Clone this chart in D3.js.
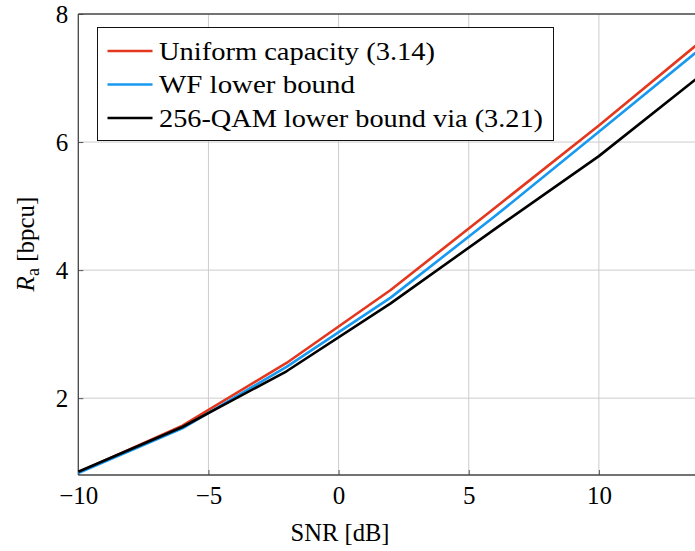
<!DOCTYPE html>
<html>
<head>
<meta charset="utf-8">
<script src="https://d3js.org/d3.v7.min.js"></script>
<style>
  body { margin: 0; background: #fff; }
</style>
</head>
<body>
<div id="chart"></div>
<script>
const snr = [-10, -6, -2, 2, 6, 10, 14]
const uniformCap = [0.84, 1.57, 2.55, 3.69, 4.97, 6.26, 7.60]
const wfLower = [0.83, 1.53, 2.49, 3.57, 4.84, 6.16, 7.49]
const qamLower = [0.85, 1.55, 2.42, 3.48, 4.64, 5.78, 7.07]
const seriesNames = ["Uniform capacity (3.14)", "WF lower bound", "256-QAM lower bound via (3.21)"]
const seriesColors = ["#e3371e", "#1799f0", "#000000"]
const xTicks = [-10, -5, 0, 5, 10]
const yTicks = [2, 4, 6, 8]

const width = 695
const height = 551
const margin = { top: 14, left: 78.3, right: -8, bottom: 76 }
const face = "'Liberation Serif'"
// legend text widths, so the serif runs as wide as the TeX face
const legendWidths = [276, 196, 384]

const svg = d3.select("#chart").append("svg")
    .attr("width", width)
    .attr("height", height)

const xScale = d3.scaleLinear()
    .domain([-10, 14])
    .range([margin.left, width - margin.right])

const yScale = d3.scaleLinear()
    .domain([0.8, 8])
    .range([height - margin.bottom, margin.top])

// grid
svg.append("g").selectAll("line")
    .data(xTicks.slice(1))
    .enter().append("line")
    .attr("x1", d => xScale(d)).attr("x2", d => xScale(d))
    .attr("y1", yScale(0.8)).attr("y2", yScale(8))
    .attr("stroke", "#cccccc").attr("stroke-width", 1)

svg.append("g").selectAll("line")
    .data(yTicks.slice(0, -1))
    .enter().append("line")
    .attr("y1", d => yScale(d)).attr("y2", d => yScale(d))
    .attr("x1", xScale(-10)).attr("x2", xScale(14))
    .attr("stroke", "#cccccc").attr("stroke-width", 1)

// axes with inward ticks
const xAxis = svg.append("g")
    .attr("transform", "translate(0," + yScale(0.8) + ")")
    .call(d3.axisBottom(xScale).tickValues(xTicks).tickSize(-5).tickPadding(11)
        .tickFormat(d => d < 0 ? "\u2212" + Math.abs(d) : d))
xAxis.attr("font-family", null).attr("font-size", null)
xAxis.select(".domain").remove()
xAxis.selectAll(".tick line").attr("stroke", "#555")
xAxis.selectAll("text")
    .style("font-family", face).attr("font-size", 25)

const yAxis = svg.append("g")
    .attr("transform", "translate(" + xScale(-10) + ",0)")
    .call(d3.axisLeft(yScale).tickValues(yTicks).tickSize(-5).tickPadding(10))
yAxis.attr("font-family", null).attr("font-size", null)
yAxis.select(".domain").remove()
yAxis.selectAll(".tick line").attr("stroke", "#555")
yAxis.selectAll("text")
    .style("font-family", face).attr("font-size", 25)

// frame
const frame = [
    [xScale(-10), yScale(0.8), xScale(14), yScale(0.8)],
    [xScale(-10), yScale(8), xScale(14), yScale(8)],
    [xScale(-10), yScale(0.8), xScale(-10), yScale(8)]
]
svg.append("g").selectAll("line")
    .data(frame)
    .enter().append("line")
    .attr("x1", d => d[0]).attr("y1", d => d[1])
    .attr("x2", d => d[2]).attr("y2", d => d[3])
    .attr("stroke", "#444").attr("stroke-width", 1.3)

// curves
const line = d3.line()
    .x((d, i) => xScale(snr[i]))
    .y(d => yScale(d))

const allSeries = [uniformCap, wfLower, qamLower]
svg.append("g").selectAll("path")
    .data(allSeries)
    .enter().append("path")
    .attr("d", d => line(d))
    .attr("fill", "none")
    .attr("stroke", (d, i) => seriesColors[i])
    .attr("stroke-width", 2.6)
    .attr("stroke-linejoin", "round")

// legend
svg.append("rect")
    .attr("x", 97.5).attr("y", 27.5)
    .attr("width", 456).attr("height", 113)
    .attr("fill", "#fff").attr("stroke", "#111").attr("stroke-width", 1)

svg.append("g").selectAll("line")
    .data(seriesNames)
    .enter().append("line")
    .attr("x1", 107.5).attr("x2", 152.5)
    .attr("y1", (d, i) => 51 + i * 33.5).attr("y2", (d, i) => 51 + i * 33.5)
    .attr("stroke", (d, i) => seriesColors[i])
    .attr("stroke-width", 2.6)

seriesNames.forEach((name, i) => {
    svg.append("text")
        .attr("x", 159).attr("y", 59.5 + i * 33.5)
        .style("font-family", face).attr("font-size", 26)
        .attr("textLength", legendWidths[i])
        .attr("lengthAdjust", "spacingAndGlyphs")
        .text(name)
})

// axis labels
svg.append("text")
    .attr("x", 340).attr("y", 541)
    .attr("text-anchor", "middle")
    .style("font-family", face).attr("font-size", 25)
    .attr("textLength", 99)
    .attr("lengthAdjust", "spacingAndGlyphs")
    .text("SNR [dB]")

const yLabel = svg.append("text")
    .attr("transform", "translate(34,244) rotate(-90)")
    .attr("text-anchor", "middle")
    .style("font-family", face).attr("font-size", 25)
yLabel.append("tspan").attr("font-style", "italic").text("R")
yLabel.append("tspan").attr("font-size", 18).attr("dy", 5).text("a")
yLabel.append("tspan").attr("dy", -5).text(" [bpcu]")
</script>
</body>
</html>
